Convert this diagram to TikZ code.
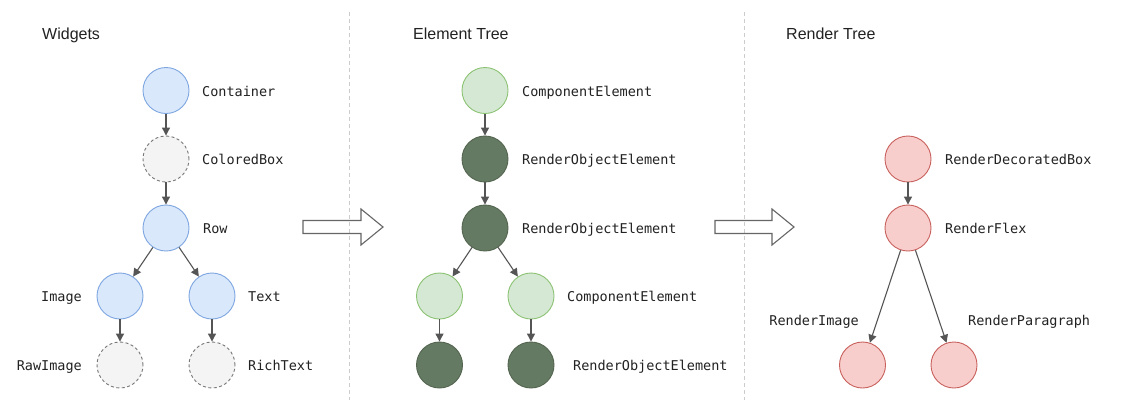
\documentclass[tikz,border=0pt]{standalone}
\usepackage{fontspec}
\setmainfont{Liberation Sans}
\newfontfamily\monof{DejaVu Sans Mono}
\usetikzlibrary{arrows.meta}
\definecolor{bluefill}{HTML}{DAE8FC}
\definecolor{bluedraw}{HTML}{7EA6E0}
\definecolor{grayfill}{HTML}{F4F4F4}
\definecolor{graydraw}{HTML}{777777}
\definecolor{greenfill}{HTML}{D5E8D4}
\definecolor{greendraw}{HTML}{8CC373}
\definecolor{darkfill}{HTML}{647A63}
\definecolor{darkdraw}{HTML}{53654F}
\definecolor{redfill}{HTML}{F8CECC}
\definecolor{reddraw}{HTML}{C8605C}
\definecolor{arrowc}{HTML}{555555}
\definecolor{divc}{HTML}{CCCCCC}
\definecolor{bac}{HTML}{666666}
\definecolor{txtc}{HTML}{222222}
\begin{document}
\begin{tikzpicture}[x=1pt,y=-1pt,
  nd/.style={circle,minimum size=46pt,inner sep=0pt,line width=0.9pt},
  wblue/.style={nd,fill=bluefill,draw=bluedraw},
  wdash/.style={nd,fill=grayfill,draw=graydraw,dash pattern=on 3pt off 2.5pt},
  elight/.style={nd,fill=greenfill,draw=greendraw},
  edark/.style={nd,fill=darkfill,draw=darkdraw},
  rred/.style={nd,fill=redfill,draw=reddraw},
  lbl/.style={font=\monof\fontsize{13.5}{16}\selectfont,inner sep=0pt,anchor=base west,text=txtc},
  lblr/.style={lbl,anchor=base east},
  ttl/.style={font=\fontsize{16}{19}\selectfont,inner sep=0pt,anchor=base west,text=txtc},
  conn/.style={draw=arrowc,line width=1.1pt,-{Triangle[length=8pt,width=8pt]}},
  divline/.style={draw=divc,line width=0.8pt,dash pattern=on 4pt off 3pt},
  blockarrow/.style={draw=bac,line width=1.1pt,line join=miter}
]
\path[fill=white] (0,0) rectangle (1132,400);
\useasboundingbox (0,0) rectangle (1132,400);

% dividers
\draw[divline] (349,12) -- (349,400);
\draw[divline] (744,12) -- (744,400);

% titles
\node[ttl] (t1) at (42,39) {Widgets};
\node[ttl] (t2) at (413,39) {Element Tree};
\node[ttl] (t3) at (786,39) {Render Tree};

% Widgets
\node[wblue] (wc) at (166,90.5) {};
\node[wdash] (wcb) at (166,159) {};
\node[wblue] (wr) at (166,228) {};
\node[wblue] (wi) at (120,296) {};
\node[wblue] (wt) at (212,296) {};
\node[wdash] (wri) at (120,365) {};
\node[wdash] (wrt) at (212,365) {};
\node[lbl] (lwc) at (202,96) {Container};
\node[lbl] (lwcb) at (202,164.5) {ColoredBox};
\node[lbl] (lwr) at (203,233.5) {Row};
\node[lblr] (lwi) at (82,301.5) {Image};
\node[lbl] (lwt) at (248,301.5) {Text};
\node[lblr] (lwri) at (82,370.5) {RawImage};
\node[lbl] (lwrt) at (248,370.5) {RichText};
\draw[conn] (wc) -- (wcb);
\draw[conn] (wcb) -- (wr);
\draw[conn] (wr) -- (wi);
\draw[conn] (wr) -- (wt);
\draw[conn] (wi) -- (wri);
\draw[conn] (wt) -- (wrt);

% Element tree
\node[elight] (e1) at (485,90.5) {};
\node[edark] (e2) at (485,159) {};
\node[edark] (e3) at (485,228) {};
\node[elight] (e4) at (439.5,296) {};
\node[elight] (e5) at (531,296) {};
\node[edark] (e6) at (439.5,365) {};
\node[edark] (e7) at (531,365) {};
\node[lbl] (le1) at (522,96) {ComponentElement};
\node[lbl] (le2) at (522,164.5) {RenderObjectElement};
\node[lbl] (le3) at (522,233.5) {RenderObjectElement};
\node[lbl] (le5) at (567,301.5) {ComponentElement};
\node[lbl] (le7) at (573,370.5) {RenderObjectElement};
\draw[conn] (e1) -- (e2);
\draw[conn] (e2) -- (e3);
\draw[conn] (e3) -- (e4);
\draw[conn] (e3) -- (e5);
\draw[conn] (e4) -- (e6);
\draw[conn] (e5) -- (e7);

% Render tree
\node[rred] (r1) at (908,159) {};
\node[rred] (r2) at (908,228) {};
\node[rred] (r3) at (862.5,365) {};
\node[rred] (r4) at (954,365) {};
\node[lbl] (lr1) at (945,164.5) {RenderDecoratedBox};
\node[lbl] (lr2) at (945,233.5) {RenderFlex};
\node[lblr] (lr3) at (859,325) {RenderImage};
\node[lbl] (lr4) at (968,325) {RenderParagraph};
\draw[conn] (r1) -- (r2);
\draw[conn] (r2) -- (r3);
\draw[conn] (r2) -- (r4);

% block arrows (unfilled: the dividers show through)
\draw[blockarrow] (303,220.5) -- (361,220.5) -- (361,209) -- (383,227) -- (361,245) -- (361,233.5) -- (303,233.5) -- cycle;
\draw[blockarrow] (715,220.5) -- (772,220.5) -- (772,209) -- (794,227) -- (772,245) -- (772,233.5) -- (715,233.5) -- cycle;
\end{tikzpicture}
\end{document}
